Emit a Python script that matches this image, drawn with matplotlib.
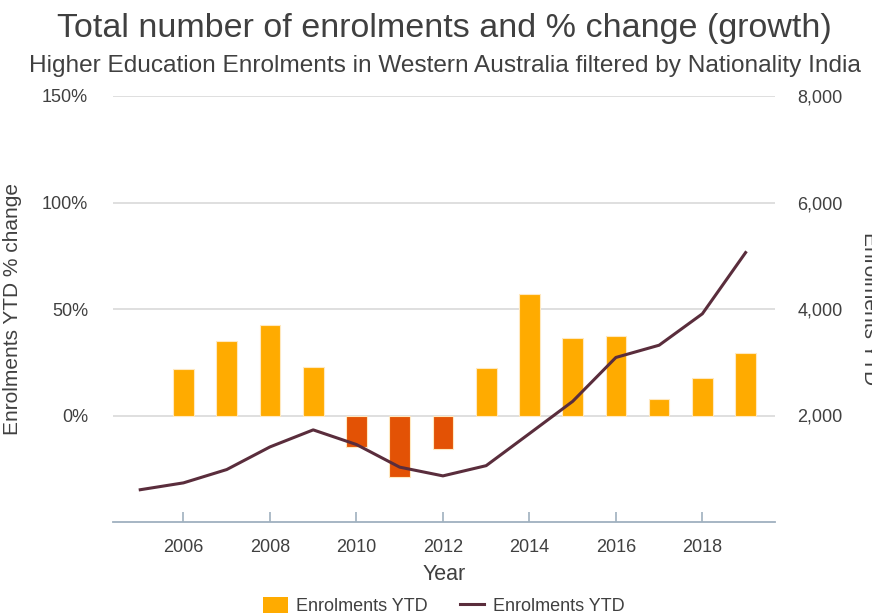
import matplotlib.pyplot as plt
from matplotlib.ticker import FuncFormatter
from matplotlib.patches import Patch
from matplotlib.lines import Line2D

plt.rcParams['font.family'] = ['Liberation Sans', 'DejaVu Sans']

years = [2005, 2006, 2007, 2008, 2009, 2010, 2011, 2012, 2013, 2014, 2015, 2016, 2017, 2018, 2019]
enrolments = [606, 735, 985, 1410, 1730, 1455, 1030, 866, 1058, 1660, 2265, 3090, 3320, 3910, 5060]
bar_years = years[1:]
pct_change = [22, 35, 42.4, 22.8, -15, -28.8, -15.8, 22.2, 57, 36.6, 37.4, 7.7, 17.7, 29.4]

txt = '#404040'
pos_col = '#FFAB00'
neg_col = '#E35205'
line_col = '#5A2D3C'

fig = plt.figure(figsize=(8.72, 6.16), dpi=100)
ax = fig.add_axes([113/872, 1 - 522/616, (775-113)/872, (522-96)/616])
ax2 = ax.twinx()

cols = [pos_col if v >= 0 else neg_col for v in pct_change]
ax.bar(bar_years, pct_change, width=0.48, color=cols, edgecolor='#FFE9C0', linewidth=0.8, zorder=3)
ax2.plot(years, enrolments, color=line_col, linewidth=2.2, zorder=4)

ax.set_xlim(2004.37, 2019.68)
ax.set_ylim(-50, 150)
ax2.set_ylim(0, 8000)
ax.set_yticks([0, 50, 100, 150])
ax2.set_yticks([2000, 4000, 6000, 8000])
ax.yaxis.set_major_formatter(FuncFormatter(lambda v, p: f'{v:.0f}%'))
ax2.yaxis.set_major_formatter(FuncFormatter(lambda v, p: f'{v:,.0f}'))
ax.set_xticks([2006, 2008, 2010, 2012, 2014, 2016, 2018])

ax.grid(axis='y', color='#dcdcdc', linewidth=1.3, zorder=0)
ax.set_axisbelow(True)
for a in (ax, ax2):
    for s in ['top', 'left', 'right']:
        a.spines[s].set_visible(False)
    a.spines['bottom'].set_color('#9fb0bf')
    a.spines['bottom'].set_linewidth(1.3)
ax2.spines['bottom'].set_visible(False)

ax.tick_params(axis='y', length=0, pad=18, labelsize=13, labelcolor=txt)
ax2.tick_params(axis='y', length=0, pad=16, labelsize=13, labelcolor=txt)
ax.tick_params(axis='x', direction='in', length=7, color='#9fb0bf', width=1.2, pad=12,
               labelsize=13, labelcolor=txt)

ax.set_xlabel('Year', fontsize=15.5, color=txt, labelpad=6)
ax.set_ylabel('Enrolments YTD % change', fontsize=15, color=txt)
ax.yaxis.set_label_coords(-0.1375, 0.5)
ax2.set_ylabel('Enrolments YTD', fontsize=15, color=txt, rotation=270, va='center')
ax2.yaxis.set_label_coords(1.143, 0.5)

fig.text(0.51, 1 - 37/616, 'Total number of enrolments and % change (growth)', ha='center', va='baseline',
         fontsize=24.5, color=txt)
fig.text(0.51, 1 - 72/616, 'Higher Education Enrolments in Western Australia filtered by Nationality India',
         ha='center', va='baseline', fontsize=17.6, color=txt)

handles = [Patch(facecolor=pos_col, edgecolor='none'), Line2D([0], [0], color=line_col, linewidth=2.2)]
fig.legend(handles, ['Enrolments YTD', 'Enrolments YTD'], loc='center', bbox_to_anchor=(0.509, 1 - 606/616),
           ncol=2, frameon=False, fontsize=13, labelcolor=txt, handlelength=1.35, handleheight=1.0,
           columnspacing=1.8, handletextpad=0.45, borderpad=0)

plt.savefig('out.png', dpi=100)
plt.close()
